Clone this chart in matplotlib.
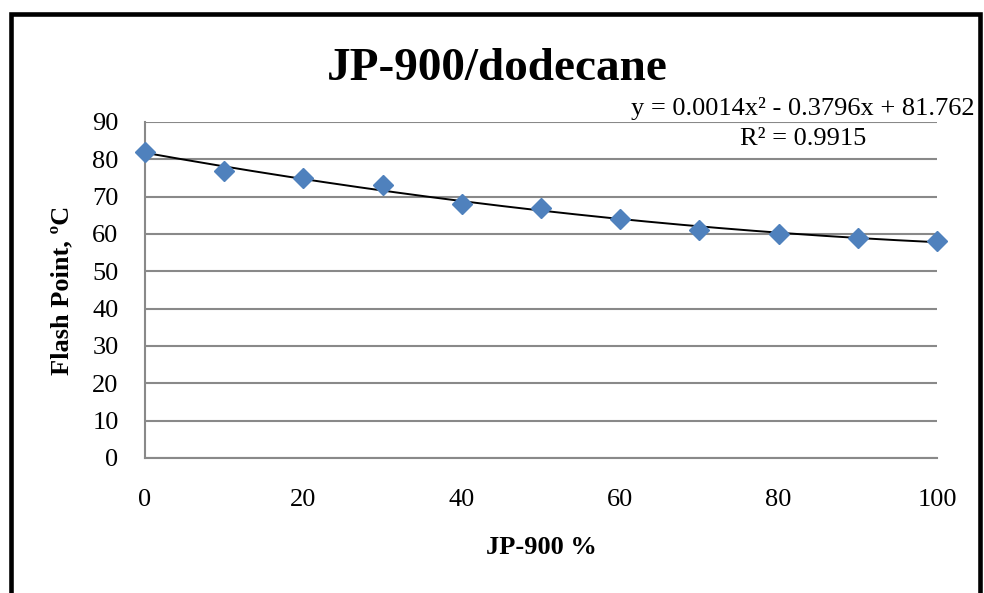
import numpy as np
import matplotlib.pyplot as plt
from matplotlib.patches import Rectangle

# data
jp900_pct = [0, 10, 20, 30, 40, 50, 60, 70, 80, 90, 100]
flash_point = [82, 77, 75, 73, 68, 67, 64, 61, 60, 59, 58]
# trendline coefficients as printed on the chart
trend_coef = [0.0014, -0.3796, 81.762]
eq_text = "y = 0.0014x\u00b2 - 0.3796x + 81.762"
r2_text = "R\u00b2 = 0.9915"

plt.rcParams['font.family'] = ['Liberation Serif', 'DejaVu Serif']

fig = plt.figure(figsize=(9.84, 5.93), dpi=100)
W, H = 984, 593
ax = fig.add_axes([145 / W, 1 - 458 / H, (937 - 145) / W, (458 - 122) / H])

grid_col = '#898989'
ax.set_xlim(0, 100)
ax.set_ylim(0, 90)
ax.set_xticks(range(0, 101, 20))
ax.set_yticks(range(0, 91, 10))
ax.yaxis.grid(True, color=grid_col, lw=1.5)
ax.set_axisbelow(True)
for s in ['top', 'right']:
    ax.spines[s].set_visible(False)
for s in ['left', 'bottom']:
    ax.spines[s].set_color(grid_col)
    ax.spines[s].set_linewidth(1.5)
ax.tick_params(axis='both', length=0, labelsize=19)
ax.tick_params(axis='x', pad=22)
ax.tick_params(axis='y', pad=19)

# trendline
xs = np.linspace(0, 100, 200)
ax.plot(xs, np.polyval(trend_coef, xs), color='black', lw=1.4, zorder=3)

# data points
ax.plot(jp900_pct, flash_point, linestyle='none', marker='D', ms=10.5,
        color='#4F81BD', zorder=4, clip_on=False)

fig.text(497 / W, 1 - 80 / H, "JP-900/dodecane", fontsize=34, fontweight='bold',
         ha='center', va='baseline')
fig.text(803 / W, 1 - 115 / H, eq_text, fontsize=19, ha='center', va='baseline')
fig.text(803 / W, 1 - 145 / H, r2_text, fontsize=19, ha='center', va='baseline')
fig.text(62 / W, 1 - 290 / H, "Flash Point, \u00baC", fontsize=19, fontweight='bold',
         rotation=90, ha='center', va='center')
fig.text(541 / W, 1 - 548 / H, "JP-900 %", fontsize=19, fontweight='bold',
         ha='center', va='center')

# chart border (bottom edge runs off the image)
fig.patches.append(Rectangle((11 / W, -0.1), (980 - 11) / W, 1.1 - 14.5 / H,
                             transform=fig.transFigure, fill=False,
                             edgecolor='black', lw=3.3))

fig.savefig('out.png', dpi=100)
